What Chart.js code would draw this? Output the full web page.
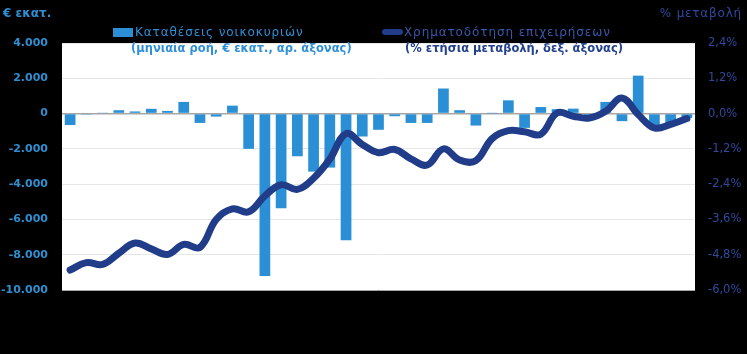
<!DOCTYPE html>
<html>
<head>
<meta charset="utf-8">
<script src="https://cdn.jsdelivr.net/npm/chart.js@4/dist/chart.umd.min.js"></script>
<style>
  html, body { margin: 0; padding: 0; background: #000; }
  #wrap { position: relative; width: 747px; height: 354px; overflow: hidden; font-family: "DejaVu Sans", sans-serif; }
  #wrap canvas { position: absolute; left: 0; top: 0; }
  .t { position: absolute; white-space: nowrap; line-height: 16px; }
  .sw { position: absolute; }
</style>
</head>
<body>
<div id="wrap">
  <canvas id="chart" width="747" height="354"></canvas>
  <div class="t" id="unitL" style="left:3px; top:5px; font-size:12px; font-weight:bold; color:#2F8FD1;">€ εκατ.</div>
  <div class="t" id="unitR" style="right:5px; top:5px; font-size:12px; letter-spacing:0.8px; color:#2D4A9C;">% μεταβολή</div>
  <div id="legend"></div>
</div>

<script>
/* ---- data ------------------------------------------------------- */
const months = [
  'Ιαν-14','Φεβ-14','Μαρ-14','Απρ-14','Μαϊ-14','Ιουν-14','Ιουλ-14','Αυγ-14','Σεπ-14','Οκτ-14','Νοε-14','Δεκ-14',
  'Ιαν-15','Φεβ-15','Μαρ-15','Απρ-15','Μαϊ-15','Ιουν-15','Ιουλ-15','Αυγ-15','Σεπ-15','Οκτ-15','Νοε-15','Δεκ-15',
  'Ιαν-16','Φεβ-16','Μαρ-16','Απρ-16','Μαϊ-16','Ιουν-16','Ιουλ-16','Αυγ-16','Σεπ-16','Οκτ-16','Νοε-16','Δεκ-16',
  'Ιαν-17','Φεβ-17','Μαρ-17'
];

// household deposits, monthly flow (€ mn, left axis)
const deposits = [
  -650, -60, 30, 190, 120, 270, 150, 660, -530, -170, 450, -2000,
  -9200, -5360, -2420, -3290, -3060, -7180, -1300, -920, -150, -530, -530, 1420,
  190, -680, 20, 750, -810, 370, 250, 280, -100, 660, -430, 2150,
  -780, -620, -250
];

// credit to businesses, annual % change (right axis)
const bizCredit = [
  -5.32, -5.07, -5.13, -4.75, -4.40, -4.60, -4.79, -4.45, -4.55, -3.60, -3.24, -3.34,
  -2.80, -2.42, -2.58, -2.20, -1.55, -0.68, -1.05, -1.33, -1.22, -1.54, -1.75, -1.20,
  -1.58, -1.60, -0.85, -0.58, -0.62, -0.70, 0.02, -0.09, -0.15, 0.08, 0.53, -0.03,
  -0.49, -0.37, -0.17
];

const legendMain = ['Καταθέσεις νοικοκυριών', 'Χρηματοδότηση επιχειρήσεων'];
const legendNote = ['(μηνιαία ροή, € εκατ., αρ. άξονας)', '(% ετήσια μεταβολή, δεξ. άξονας)'];

const BAR  = '#2A8FD4';
const LINE = '#213D8A';

/* ---- helpers ---------------------------------------------------- */
const fmtThousands = v => {
  const s = Math.abs(Math.round(v)).toString().replace(/\B(?=(\d{3})+(?!\d))/g, '.');
  return (v < 0 ? '-' : '') + s;
};
const fmtPct = v => (Math.abs(v) < 1e-9 ? 0 : v).toFixed(1).replace('.', ',') + '%';

/* black page, white plot area */
const plotBg = {
  id: 'plotBg',
  beforeDraw(chart) {
    const { ctx, chartArea: a } = chart;
    ctx.save();
    ctx.fillStyle = '#000';
    ctx.fillRect(0, 0, chart.width, chart.height);
    ctx.fillStyle = '#fff';
    ctx.fillRect(a.left, a.top, a.right - a.left, a.bottom - a.top);
    ctx.restore();
  }
};

new Chart(document.getElementById('chart'), {
  data: {
    labels: months,
    datasets: [
      {
        type: 'line', label: legendMain[1], data: bizCredit, yAxisID: 'yR',
        borderColor: LINE, borderWidth: 7, tension: 0.4, pointRadius: 0,
        borderCapStyle: 'round', borderJoinStyle: 'round', order: 0
      },
      {
        type: 'bar', label: legendMain[0], data: deposits, yAxisID: 'yL',
        backgroundColor: BAR, barPercentage: 0.66, categoryPercentage: 1, order: 1
      }
    ]
  },
  options: {
    responsive: false,
    animation: false,
    layout: { padding: { top: 43, bottom: 64, left: 0, right: 0 } },
    plugins: { legend: { display: false }, tooltip: { enabled: false } },
    scales: {
      x: { display: false, offset: true, grid: { display: false } },
      yL: {
        position: 'left', min: -10000, max: 4000,
        afterFit: s => { s.width = 62; },
        border: { display: false },
        grid: {
          drawTicks: false,
          color: c => (c.tick.value === 0 || c.tick.value === -10000) ? '#A6A6A6' : '#E6E6E6',
          lineWidth: c => c.tick.value === 0 ? 1.5 : 1
        },
        ticks: {
          stepSize: 2000, padding: 14, color: '#2F8FD1',
          font: { family: 'DejaVu Sans', size: 11, weight: 'bold' },
          callback: v => fmtThousands(v)
        }
      },
      yR: {
        position: 'right', min: -6, max: 2.4,
        afterFit: s => { s.width = 52; },
        border: { display: false },
        grid: { display: false, drawTicks: false },
        ticks: {
          stepSize: 1.2, padding: 13, color: '#2D4A9C',
          font: { family: 'DejaVu Sans', size: 11.5 },
          callback: v => fmtPct(v)
        }
      }
    }
  },
  plugins: [plotBg]
});

/* ---- HTML legend ------------------------------------------------ */
const lg = document.getElementById('legend');
const items = [
  { sw: `left:113px; top:28px; width:20px; height:9px; background:${BAR};`,
    x1: 135, x2: 131, c1: '#2F8FD6', c2: '#2F8FD6' },
  { sw: `left:382px; top:29px; width:21px; height:6px; border-radius:3px; background:${LINE};`,
    x1: 404, x2: 405, c1: '#3A57AA', c2: '#23408E' }
];
items.forEach((it, i) => {
  lg.insertAdjacentHTML('beforeend',
    `<div class="sw" style="${it.sw}"></div>` +
    `<div class="t" style="left:${it.x1}px; top:24px; font-size:12px; letter-spacing:0.9px; color:${it.c1};">${legendMain[i]}</div>` +
    `<div class="t" style="left:${it.x2}px; top:40px; font-size:11.5px; font-weight:bold; color:${it.c2};">${legendNote[i]}</div>`);
});
</script>
</body>
</html>
